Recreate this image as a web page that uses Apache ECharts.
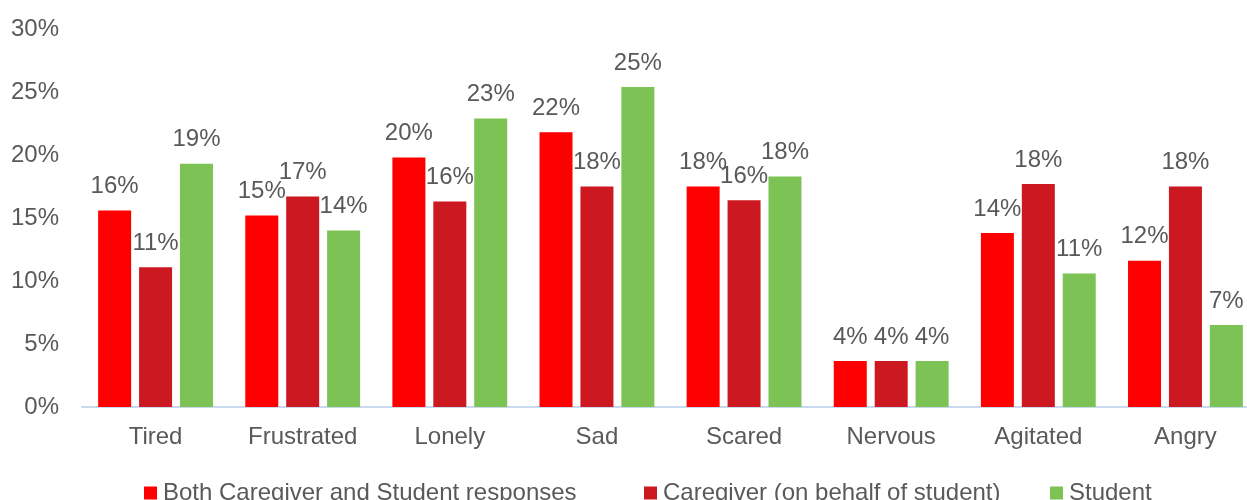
<!DOCTYPE html>
<html>
<head>
<meta charset="utf-8">
<script src="https://cdn.jsdelivr.net/npm/echarts@6/dist/echarts.min.js"></script>
<style>
html,body{margin:0;padding:0;background:#fff;}
#chart{width:1247px;height:500px;}
</style>
</head>
<body>
<div id="chart"></div>
<script>
const categories = ['Tired','Frustrated','Lonely','Sad','Scared','Nervous','Agitated','Angry'];
const seriesNames = ['Both Caregiver and Student responses','Caregiver (on behalf of student)','Student'];
const bothValues = [15.6, 15.2, 19.8, 21.8, 17.5, 3.65, 13.8, 11.6];
const caregiverValues = [11.1, 16.7, 16.3, 17.5, 16.4, 3.65, 17.7, 17.5];
const studentValues = [19.3, 14.0, 22.9, 25.4, 18.3, 3.65, 10.6, 6.5];
const colors = ['#FF0000', '#CC1820', '#7CC255'];

const font = '"Liberation Sans", Arial, sans-serif';
const textColor = '#595959';

function mkSeries(name, data, color) {
  return {
    name: name,
    type: 'bar',
    data: data,
    barWidth: 33,
    barGap: '24%',
    itemStyle: { color: color },
    label: {
      show: true,
      position: 'top',
      distance: 12,
      color: textColor,
      fontFamily: font,
      fontSize: 24,
      formatter: p => Math.round(p.value) + '%'
    }
  };
}

function mkLegend(name, left) {
  return {
    left: left,
    top: 476,
    itemWidth: 13,
    itemHeight: 13,
    itemGap: 0,
    icon: 'rect',
    textStyle: { color: textColor, fontFamily: font, fontSize: 24, padding: [0, 0, 0, 1] },
    data: [name]
  };
}

const chart = echarts.init(document.getElementById('chart'), null, { renderer: 'canvas' });
chart.setOption({
  animation: false,
  backgroundColor: '#fff',
  grid: { left: 82, width: 1177, top: 29, bottom: 93, outerBoundsMode: 'none', containLabel: false },
  legend: [
    mkLegend(seriesNames[0], 139),
    mkLegend(seriesNames[1], 639),
    mkLegend(seriesNames[2], 1045)
  ],
  xAxis: {
    type: 'category',
    data: categories,
    axisLine: { show: true, lineStyle: { color: '#C9D9EE', width: 2 } },
    axisTick: { show: false },
    axisLabel: { color: textColor, fontFamily: font, fontSize: 24, margin: 18, interval: 0 }
  },
  yAxis: {
    type: 'value',
    min: 0,
    max: 30,
    interval: 5,
    axisLine: { show: false },
    axisTick: { show: false },
    splitLine: { show: false },
    axisLabel: { color: textColor, fontFamily: font, fontSize: 24, margin: 23, formatter: '{value}%' }
  },
  series: [
    mkSeries(seriesNames[0], bothValues, colors[0]),
    mkSeries(seriesNames[1], caregiverValues, colors[1]),
    mkSeries(seriesNames[2], studentValues, colors[2])
  ]
});
</script>
</body>
</html>
